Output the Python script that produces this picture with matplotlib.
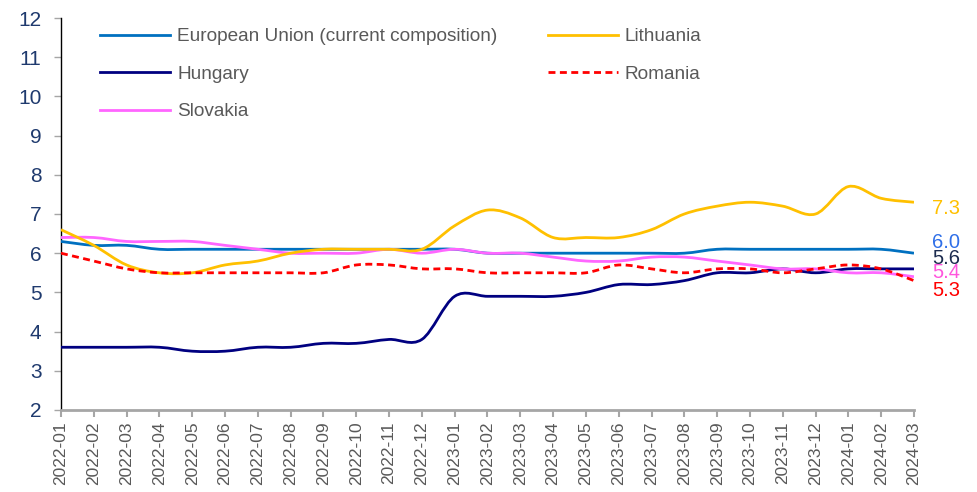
import matplotlib
matplotlib.use('Agg')
import matplotlib.pyplot as plt
from matplotlib.path import Path
from matplotlib.patches import PathPatch
from matplotlib.lines import Line2D
import numpy as np

plt.rcParams['font.family'] = ['Liberation Sans', 'DejaVu Sans']

months = ['2022-01', '2022-02', '2022-03', '2022-04', '2022-05', '2022-06',
          '2022-07', '2022-08', '2022-09', '2022-10', '2022-11', '2022-12',
          '2023-01', '2023-02', '2023-03', '2023-04', '2023-05', '2023-06',
          '2023-07', '2023-08', '2023-09', '2023-10', '2023-11', '2023-12',
          '2024-01', '2024-02', '2024-03']

eu = [6.3, 6.2, 6.2, 6.1, 6.1, 6.1, 6.1, 6.1, 6.1, 6.1, 6.1, 6.1, 6.1,
      6.0, 6.0, 6.0, 6.0, 6.0, 6.0, 6.0, 6.1, 6.1, 6.1, 6.1, 6.1, 6.1, 6.0]
lithuania = [6.6, 6.2, 5.7, 5.5, 5.5, 5.7, 5.8, 6.0, 6.1, 6.1, 6.1, 6.1, 6.7,
             7.1, 6.9, 6.4, 6.4, 6.4, 6.6, 7.0, 7.2, 7.3, 7.2, 7.0, 7.7, 7.4, 7.3]
hungary = [3.6, 3.6, 3.6, 3.6, 3.5, 3.5, 3.6, 3.6, 3.7, 3.7, 3.8, 3.8, 4.9,
           4.9, 4.9, 4.9, 5.0, 5.2, 5.2, 5.3, 5.5, 5.5, 5.6, 5.5, 5.6, 5.6, 5.6]
romania = [6.0, 5.8, 5.6, 5.5, 5.5, 5.5, 5.5, 5.5, 5.5, 5.7, 5.7, 5.6, 5.6,
           5.5, 5.5, 5.5, 5.5, 5.7, 5.6, 5.5, 5.6, 5.6, 5.5, 5.6, 5.7, 5.6, 5.3]
slovakia = [6.4, 6.4, 6.3, 6.3, 6.3, 6.2, 6.1, 6.0, 6.0, 6.0, 6.1, 6.0, 6.1,
            6.0, 6.0, 5.9, 5.8, 5.8, 5.9, 5.9, 5.8, 5.7, 5.6, 5.6, 5.5, 5.5, 5.4]


def smooth_path(xs, ys):
    # excel-like smoothed line: catmull-rom turned into cubic bezier segments
    pts = np.column_stack([xs, ys])
    verts = [pts[0]]
    codes = [Path.MOVETO]
    n = len(pts)
    for i in range(n - 1):
        p0 = pts[max(i - 1, 0)]
        p1 = pts[i]
        p2 = pts[i + 1]
        p3 = pts[min(i + 2, n - 1)]
        c1 = p1 + (p2 - p0) / 6
        c2 = p2 - (p3 - p1) / 6
        verts += [c1, c2, p2]
        codes += [Path.CURVE4] * 3
    return Path(verts, codes)


x = np.arange(len(months))

# name, values, line colour, line style, end label colour, end label y
series = [
    ('European Union (current composition)', eu, '#0070C0', '-', '#2F6FE8', 6.27),
    ('Hungary', hungary, '#000080', '-', '#1C2B4F', 5.87),
    ('Slovakia', slovakia, '#FF66FF', '-', '#FF55DD', 5.50),
    ('Lithuania', lithuania, '#FFC000', '-', '#FFC000', 7.15),
    ('Romania', romania, '#FF0000', (0, (2.5, 1.6)), '#FF0000', 5.06),
]

fig = plt.figure(figsize=(9.77, 4.92), dpi=100)
ax = fig.add_axes([0.0624, 0.1667, 0.8731, 0.7967])

handles = []
for name, vals, color, ls, lab_color, lab_y in series:
    patch = PathPatch(smooth_path(x, vals), fill=False, edgecolor=color,
                      linewidth=2.0, linestyle=ls, capstyle='butt', zorder=3)
    ax.add_patch(patch)
    handles.append(Line2D([], [], color=color, linewidth=2.0, linestyle=ls))
    ax.text(26.55, lab_y, '%.1f' % vals[-1], color=lab_color, fontsize=14.5,
            va='center', ha='left', clip_on=False)

ax.set_xlim(0, 26)
ax.set_ylim(2, 12)
ax.set_xticks(x)
ax.set_xticklabels(months, rotation=90, fontsize=12.5, color='#595959')
ax.set_yticks(range(2, 13))
ax.tick_params(axis='y', labelsize=15, labelcolor='#1F3A6E', color='#A6A6A6',
               length=5, width=1, pad=9)
ax.tick_params(axis='x', color='#A6A6A6', length=5, width=1.5, pad=3)

for s in ['top', 'right']:
    ax.spines[s].set_visible(False)
ax.spines['left'].set_color('black')
ax.spines['left'].set_linewidth(1)
ax.spines['bottom'].set_color('#A6A6A6')
ax.spines['bottom'].set_linewidth(2)

leg = ax.legend(handles, [s[0] for s in series], ncol=2, loc='upper left',
                bbox_to_anchor=(0.026, 1.018), frameon=False, fontsize=13.7,
                handlelength=3.68, handletextpad=0.37, labelspacing=1.06,
                columnspacing=2.63)
for t in leg.get_texts():
    t.set_color('#595959')

fig.savefig('out.png', dpi=100)
